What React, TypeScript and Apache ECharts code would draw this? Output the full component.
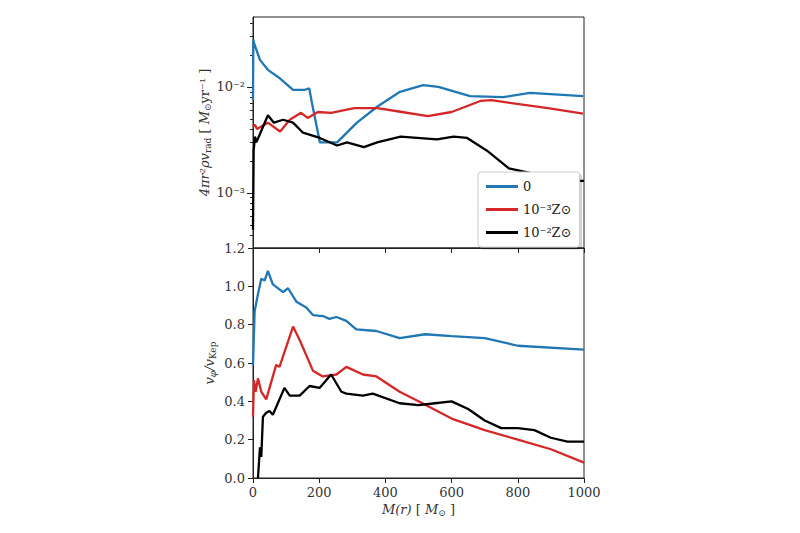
import React, { useEffect, useRef } from "react";
import * as echarts from "echarts";

const blueTopM = [0, 1, 3, 21, 45, 82, 121, 157, 170, 178, 202, 254, 314, 375, 444, 514, 560, 656, 755, 837, 997];
const blueTopV = [0.0075, 0.028, 0.026, 0.018, 0.0145, 0.012, 0.0094, 0.0094, 0.0097, 0.0071, 0.003, 0.003, 0.0046, 0.0065, 0.009, 0.0104, 0.0100, 0.0082, 0.008, 0.0088, 0.0082];
const redTopM = [0, 6, 12, 45, 82, 111, 145, 165, 196, 236, 306, 376, 450, 528, 600, 689, 720, 891, 997];
const redTopV = [0.0042, 0.0044, 0.004, 0.0046, 0.0038, 0.0049, 0.0057, 0.0051, 0.0058, 0.0057, 0.0063, 0.0063, 0.0058, 0.0053, 0.0058, 0.0074, 0.0075, 0.0063, 0.0056];
const blackTopM = [0, 2, 6, 10, 21, 45, 63, 91, 121, 151, 202, 254, 284, 335, 375, 446, 556, 606, 647, 707, 773, 949, 1000];
const blackTopV = [0.00045, 0.0025, 0.0034, 0.003, 0.0036, 0.0054, 0.0046, 0.0049, 0.0046, 0.0037, 0.0033, 0.0028, 0.003, 0.0027, 0.003, 0.0034, 0.0032, 0.0034, 0.0033, 0.0025, 0.0017, 0.0013, 0.0013];

const blueBotM = [0, 5, 15, 25, 35, 45, 60, 91, 106, 131, 161, 181, 211, 231, 252, 282, 312, 373, 443, 520, 600, 700, 800, 1000];
const blueBotV = [0.59, 0.87, 0.96, 1.04, 1.03, 1.08, 1.01, 0.97, 0.99, 0.92, 0.89, 0.85, 0.845, 0.83, 0.84, 0.82, 0.775, 0.767, 0.73, 0.75, 0.74, 0.73, 0.69, 0.67];
const redBotM = [0, 3, 8, 15, 25, 40, 70, 80, 121, 141, 181, 211, 252, 282, 332, 373, 443, 500, 600, 700, 800, 900, 1000];
const redBotV = [0.32, 0.51, 0.45, 0.52, 0.45, 0.41, 0.59, 0.58, 0.79, 0.72, 0.56, 0.53, 0.54, 0.58, 0.54, 0.53, 0.45, 0.40, 0.31, 0.25, 0.20, 0.15, 0.08];
const blackBotM = [15, 21, 25, 30, 40, 50, 60, 95, 111, 141, 171, 201, 236, 267, 282, 332, 362, 443, 500, 550, 600, 650, 700, 750, 800, 850, 900, 950, 1000];
const blackBotV = [0.0, 0.16, 0.11, 0.32, 0.34, 0.35, 0.33, 0.47, 0.43, 0.43, 0.48, 0.47, 0.54, 0.45, 0.44, 0.43, 0.44, 0.39, 0.38, 0.39, 0.40, 0.36, 0.30, 0.26, 0.26, 0.25, 0.21, 0.19, 0.19];

const names = ["0", "10⁻³Z⊙", "10⁻²Z⊙"];
const colors = ["#1f77b4", "#d62728", "#000000"];

const font = "DejaVu Serif";
const sup: Record<string, string> = { "-2": "10⁻²", "-3": "10⁻³" };

export default function App() {
  const ref = useRef<HTMLDivElement>(null);
  useEffect(() => {
    const chart = echarts.init(ref.current!, null, { renderer: "svg" });
    const pairsLog = (m: number[], v: number[]) => m.map((x, i) => [x, Math.log10(v[i])]);
    const pairs = (m: number[], v: number[]) => m.map((x, i) => [x, v[i]]);
    const minors: number[] = [];
    for (let d = -4; d <= -2; d++) for (let k = 2; k <= 9; k++) {
      const l = Math.log10(k * Math.pow(10, d));
      if (l > -3.52 && l < -1.34) minors.push(l);
    }
    const line = (name: string, data: any, xi: number, yi: number, c: string) => ({
      name, type: "line", data, xAxisIndex: xi, yAxisIndex: yi, showSymbol: false,
      lineStyle: { color: c, width: 2.3 }, itemStyle: { color: c }, z: c === "#000000" ? 3 : 2,
    });
    const axLine = { show: true, lineStyle: { color: "#222", width: 1 } };
    const txt = { fontFamily: font, color: "#333", fontSize: 13 };
    const rich = {
      i: { fontFamily: font, fontStyle: "italic", fontSize: 13, color: "#333" },
      r: { fontFamily: font, fontSize: 13, color: "#333" },
      s: { fontFamily: font, fontSize: 9, color: "#333", verticalAlign: "bottom", padding: [6, 0, 0, 0] },
      si: { fontFamily: font, fontStyle: "italic", fontSize: 9, color: "#333", verticalAlign: "bottom", padding: [6, 0, 0, 0] },
    };
    chart.setOption({
      animation: false,
      textStyle: { fontFamily: font },
      grid: [
        { left: 253, width: 331, top: 17, height: 231, show: true, borderColor: "#222", borderWidth: 1 },
        { left: 253, width: 331, top: 248, height: 230, show: true, borderColor: "#222", borderWidth: 1 },
      ],
      legend: {
        orient: "vertical", left: 478, top: 172, itemWidth: 32, itemHeight: 3, icon: "rect",
        itemGap: 10, padding: [8, 8, 8, 8],
        backgroundColor: "#fff", borderColor: "#ccc", borderWidth: 1, borderRadius: 3,
        shadowColor: "rgba(0,0,0,0.2)", shadowOffsetX: 2, shadowOffsetY: 2,
        textStyle: { fontFamily: font, fontSize: 13, color: "#222" },
        data: names,
      },
      xAxis: [
        { type: "value", gridIndex: 0, min: 0, max: 1000, interval: 200, axisLine: axLine, axisTick: { show: true }, axisLabel: { show: false }, splitLine: { show: false } },
        { type: "value", gridIndex: 1, min: 0, max: 1000, interval: 200, axisLine: axLine, axisTick: { show: true },
          axisLabel: { ...txt, formatter: (v: number) => String(v) }, splitLine: { show: false },
          name: "{i|M(r)}{r| [ }{i|M}{s|⊙}{r| ]}", nameLocation: "middle", nameGap: 24, nameTextStyle: { ...txt, rich } },
      ],
      yAxis: [
        { type: "value", gridIndex: 0, min: -3.52, max: -1.34, axisLine: axLine, splitLine: { show: false },
          axisTick: { show: true, customValues: [-3, -2], length: 6 },
          axisLabel: { ...txt, customValues: [-3, -2], formatter: (v: number) => sup[String(Math.round(v))] || "" },
          name: "{i|4πr²ρv}{s|rad}{r| [ }{i|M}{s|⊙}{r|yr⁻¹ ]}", nameLocation: "middle", nameGap: 38, nameRotate: 90,
          nameTextStyle: { ...txt, rich } },
        { type: "value", gridIndex: 0, position: "left", min: -3.52, max: -1.34, axisLine: { show: false }, splitLine: { show: false },
          axisTick: { show: true, customValues: minors, length: 3, lineStyle: { color: "#222" } }, axisLabel: { show: false } },
        { type: "value", gridIndex: 1, min: 0, max: 1.2, interval: 0.2, axisLine: axLine, splitLine: { show: false },
          axisTick: { show: true }, axisLabel: { ...txt, formatter: (v: number) => v.toFixed(1) },
          name: "{i|v}{si|φ}{i|/v}{s|Kep}", nameLocation: "middle", nameGap: 36, nameRotate: 90,
          nameTextStyle: { ...txt, rich } },
      ],
      series: [
        line(names[0], pairsLog(blueTopM, blueTopV), 0, 0, colors[0]),
        line(names[1], pairsLog(redTopM, redTopV), 0, 0, colors[1]),
        line(names[2], pairsLog(blackTopM, blackTopV), 0, 0, colors[2]),
        line(names[0], pairs(blueBotM, blueBotV), 1, 2, colors[0]),
        line(names[1], pairs(redBotM, redBotV), 1, 2, colors[1]),
        line(names[2], pairs(blackBotM, blackBotV), 1, 2, colors[2]),
      ],
    });
    return () => chart.dispose();
  }, []);
  return <div ref={ref} style={{ position: "fixed", left: 0, top: 0, width: 800, height: 533, background: "#fff" }} />;
}
